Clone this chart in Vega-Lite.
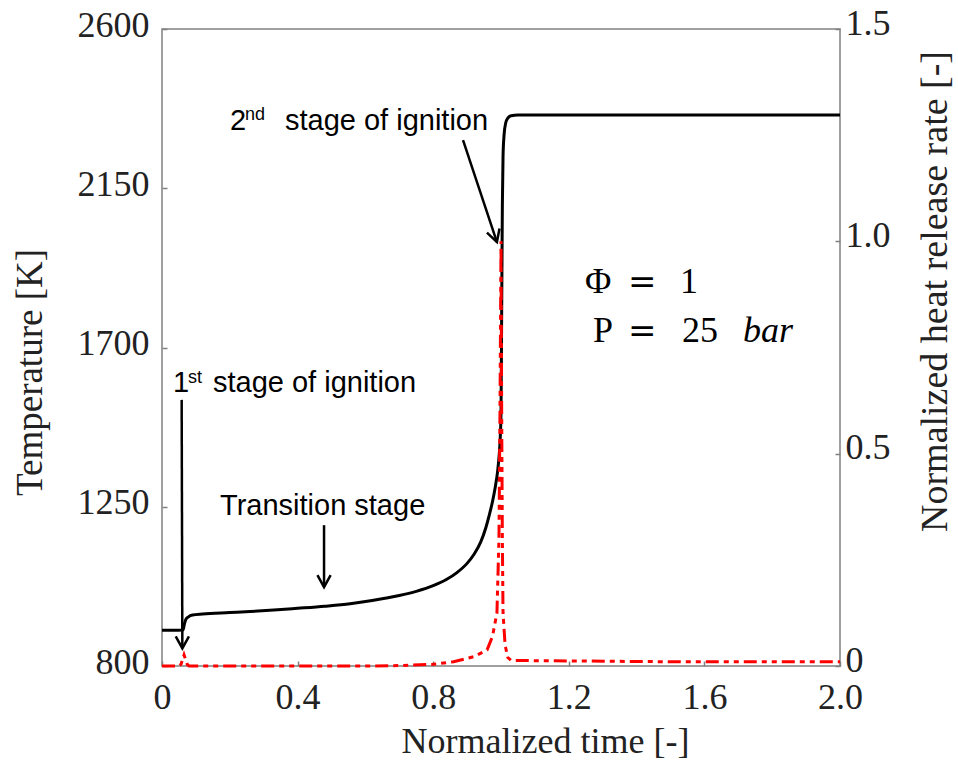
{
  "$schema": "https://vega.github.io/schema/vega-lite/v6.json",
  "width": 678,
  "height": 637,
  "autosize": {"type": "none"},
  "padding": {"left": 162, "top": 29, "right": 118, "bottom": 108},
  "background": "white",
  "config": {
    "view": {"stroke": "#808080", "strokeWidth": 1.5},
    "axis": {
      "grid": false,
      "domain": false,
      "labelFlush": false,
      "tickColor": "#808080",
      "tickWidth": 1.5,
      "tickSize": -5,
      "labelFont": "Liberation Serif",
      "labelFontSize": 36,
      "labelColor": "#222",
      "titleFont": "Liberation Serif",
      "titleFontSize": 36,
      "titleFontWeight": "normal",
      "titleColor": "#222"
    }
  },
  "datasets": {
    "temp": [
      {"t": 0, "T": 901}, {"t": 0.03, "T": 901}, {"t": 0.062, "T": 902}, {"t": 0.066, "T": 918},
      {"t": 0.07, "T": 931}, {"t": 0.078, "T": 939}, {"t": 0.09, "T": 944}, {"t": 0.12, "T": 947},
      {"t": 0.2, "T": 951}, {"t": 0.26, "T": 954}, {"t": 0.33, "T": 958}, {"t": 0.4, "T": 963},
      {"t": 0.48, "T": 969}, {"t": 0.555, "T": 976}, {"t": 0.62, "T": 985}, {"t": 0.7, "T": 999},
      {"t": 0.75, "T": 1011}, {"t": 0.8, "T": 1027}, {"t": 0.84, "T": 1045}, {"t": 0.87, "T": 1064},
      {"t": 0.9, "T": 1090}, {"t": 0.92, "T": 1115}, {"t": 0.94, "T": 1150}, {"t": 0.955, "T": 1190},
      {"t": 0.965, "T": 1225}, {"t": 0.975, "T": 1265}, {"t": 0.983, "T": 1305}, {"t": 0.99, "T": 1350},
      {"t": 0.995, "T": 1400}, {"t": 0.998, "T": 1450}, {"t": 1.0, "T": 1515}, {"t": 1.002, "T": 1800},
      {"t": 1.004, "T": 2100}, {"t": 1.006, "T": 2240}, {"t": 1.009, "T": 2300}, {"t": 1.014, "T": 2335},
      {"t": 1.02, "T": 2348}, {"t": 1.03, "T": 2355}, {"t": 1.05, "T": 2357}, {"t": 1.5, "T": 2357},
      {"t": 2.0, "T": 2357}
    ],
    "hrr": [
      {"t": 0, "q": 0}, {"t": 0.05, "q": 0}, {"t": 0.056, "q": 0.004}, {"t": 0.06, "q": 0.013},
      {"t": 0.065, "q": 0.026}, {"t": 0.07, "q": 0.014}, {"t": 0.075, "q": 0.003}, {"t": 0.08, "q": 0},
      {"t": 0.6, "q": 0}, {"t": 0.7, "q": 0.001}, {"t": 0.8, "q": 0.004}, {"t": 0.86, "q": 0.01},
      {"t": 0.92, "q": 0.022}, {"t": 0.959, "q": 0.038}, {"t": 0.975, "q": 0.07}, {"t": 0.988, "q": 0.125},
      {"t": 0.994, "q": 0.3}, {"t": 0.997, "q": 0.6}, {"t": 1.0, "q": 1.0}, {"t": 1.002, "q": 0.6},
      {"t": 1.004, "q": 0.3}, {"t": 1.006, "q": 0.125}, {"t": 1.012, "q": 0.05}, {"t": 1.02, "q": 0.02},
      {"t": 1.03, "q": 0.013}, {"t": 1.5, "q": 0.01}, {"t": 2.0, "q": 0.01}
    ],
    "arrows": [
      {"t": 0.058, "T": 1552, "t2": 0.06, "T2": 850},
      {"t": 0.478, "T": 1198, "t2": 0.478, "T2": 1023}
    ],
    "heads": [
      {"t": 0.06, "T": 850},
      {"t": 0.478, "T": 1023}
    ],
    "arrowSlant": [
      {"t": 0.888, "T": 2286, "t2": 0.988, "T2": 1998}
    ],
    "headSlant": [
      {"t": 0.988, "T": 1998}
    ],
    "labels": [
      {"t": 0.0324, "T": 1574, "text": "1"},
      {"t": 0.1504, "T": 1574, "text": "stage of ignition"},
      {"t": 0.2006, "T": 2315, "text": "2"},
      {"t": 0.3628, "T": 2315, "text": "stage of ignition"},
      {"t": 0.1711, "T": 1227, "text": "Transition stage"}
    ],
    "sups": [
      {"t": 0.0767, "T": 1600, "text": "st"},
      {"t": 0.2448, "T": 2343, "text": "nd"}
    ],
    "math": [
      {"t": 1.2478, "T": 1854, "text": "Φ"},
      {"t": 1.528, "T": 1854, "text": "1"},
      {"t": 1.2714, "T": 1716, "text": "P"},
      {"t": 1.534, "T": 1716, "text": "25"}
    ],
    "mathEq": [
      {"t": 1.3746, "T": 1854, "text": "="},
      {"t": 1.3746, "T": 1716, "text": "="}
    ],
    "mathItalic": [
      {"t": 1.714, "T": 1716, "text": "bar"}
    ]
  },
  "layer": [
    {
      "layer": [
        {
          "data": {"name": "temp"},
          "mark": {"type": "line", "color": "#000000", "strokeWidth": 3, "interpolate": "monotone"},
          "encoding": {
            "x": {
              "field": "t", "type": "quantitative",
              "scale": {"domain": [0, 2], "nice": false, "zero": false},
              "axis": {
                "values": [0, 0.4, 0.8, 1.2, 1.6, 2.0],
                "labelExpr": "datum.value == 0 ? '0' : format(datum.value, '.1f')",
                "labelPadding": 19,
                "title": "Normalized time [-]",
                "titleX": 383, "titleY": 86, "titleBaseline": "alphabetic", "titleAnchor": null, "titleAlign": "center"
              }
            },
            "y": {
              "field": "T", "type": "quantitative",
              "scale": {"domain": [800, 2600], "nice": false, "zero": false},
              "axis": {
                "values": [800, 1250, 1700, 2150, 2600],
                "format": "d",
                "labelPadding": 18,
                "labelOffset": -4,
                "title": "Temperature [K]",
                "titleFontSize": 37,
                "titleX": -132, "titleY": 343, "titleAngle": -90, "titleBaseline": "middle", "titleAlign": "center", "titleAnchor": null
              }
            }
          }
        },
        {
          "data": {"name": "arrows"},
          "mark": {"type": "rule", "color": "#000000", "strokeWidth": 2.5},
          "encoding": {
            "x": {"field": "t", "type": "quantitative"},
            "y": {"field": "T", "type": "quantitative"},
            "x2": {"field": "t2"},
            "y2": {"field": "T2"}
          }
        },
        {
          "data": {"name": "arrowSlant"},
          "mark": {"type": "rule", "color": "#000000", "strokeWidth": 2.5},
          "encoding": {
            "x": {"field": "t", "type": "quantitative"},
            "y": {"field": "T", "type": "quantitative"},
            "x2": {"field": "t2"},
            "y2": {"field": "T2"}
          }
        },
        {
          "data": {"name": "heads"},
          "mark": {"type": "point", "shape": "M-0.55,-1L0,0L0.55,-1", "filled": false, "stroke": "#000000", "strokeWidth": 2.5, "size": 576, "opacity": 1},
          "encoding": {
            "x": {"field": "t", "type": "quantitative"},
            "y": {"field": "T", "type": "quantitative"}
          }
        },
        {
          "data": {"name": "headSlant"},
          "mark": {"type": "point", "shape": "M-0.55,-1L0,0L0.55,-1", "filled": false, "stroke": "#000000", "strokeWidth": 2.5, "size": 576, "angle": -18, "opacity": 1},
          "encoding": {
            "x": {"field": "t", "type": "quantitative"},
            "y": {"field": "T", "type": "quantitative"}
          }
        },
        {
          "data": {"name": "labels"},
          "mark": {"type": "text", "font": "Liberation Sans", "fontSize": 29, "align": "left", "baseline": "alphabetic", "color": "#000000"},
          "encoding": {
            "x": {"field": "t", "type": "quantitative"},
            "y": {"field": "T", "type": "quantitative"},
            "text": {"field": "text"}
          }
        },
        {
          "data": {"name": "sups"},
          "mark": {"type": "text", "font": "Liberation Sans", "fontSize": 18, "align": "left", "baseline": "alphabetic", "color": "#000000"},
          "encoding": {
            "x": {"field": "t", "type": "quantitative"},
            "y": {"field": "T", "type": "quantitative"},
            "text": {"field": "text"}
          }
        },
        {
          "data": {"name": "math"},
          "mark": {"type": "text", "font": "Liberation Serif", "fontSize": 36, "align": "left", "baseline": "alphabetic", "color": "#000000"},
          "encoding": {
            "x": {"field": "t", "type": "quantitative"},
            "y": {"field": "T", "type": "quantitative"},
            "text": {"field": "text"}
          }
        },
        {
          "data": {"name": "mathEq"},
          "mark": {"type": "text", "font": "DejaVu Serif", "fontSize": 34, "align": "left", "baseline": "alphabetic", "color": "#000000"},
          "encoding": {
            "x": {"field": "t", "type": "quantitative"},
            "y": {"field": "T", "type": "quantitative"},
            "text": {"field": "text"}
          }
        },
        {
          "data": {"name": "mathItalic"},
          "mark": {"type": "text", "font": "Liberation Serif", "fontSize": 36, "fontStyle": "italic", "align": "left", "baseline": "alphabetic", "color": "#000000"},
          "encoding": {
            "x": {"field": "t", "type": "quantitative"},
            "y": {"field": "T", "type": "quantitative"},
            "text": {"field": "text"}
          }
        }
      ]
    },
    {
      "data": {"name": "hrr"},
      "mark": {"type": "line", "color": "#ff0000", "strokeWidth": 3, "strokeDash": [13, 5, 5, 5, 5, 5], "interpolate": "linear"},
      "encoding": {
        "x": {"field": "t", "type": "quantitative"},
        "y": {
          "field": "q", "type": "quantitative",
          "scale": {"domain": [0, 1.5], "nice": false, "zero": false},
          "axis": {
            "orient": "right",
            "values": [0, 0.5, 1.0, 1.5],
            "labelExpr": "datum.value == 0 ? '0' : format(datum.value, '.1f')",
            "labelPadding": 10,
            "labelOffset": -6,
            "title": "Normalized heat release rate [-]",
            "titleFontSize": 38,
            "titleX": 95, "titleY": 262, "titleAngle": -90, "titleBaseline": "middle", "titleAlign": "center", "titleAnchor": null
          }
        }
      }
    }
  ],
  "resolve": {"scale": {"y": "independent"}}
}
